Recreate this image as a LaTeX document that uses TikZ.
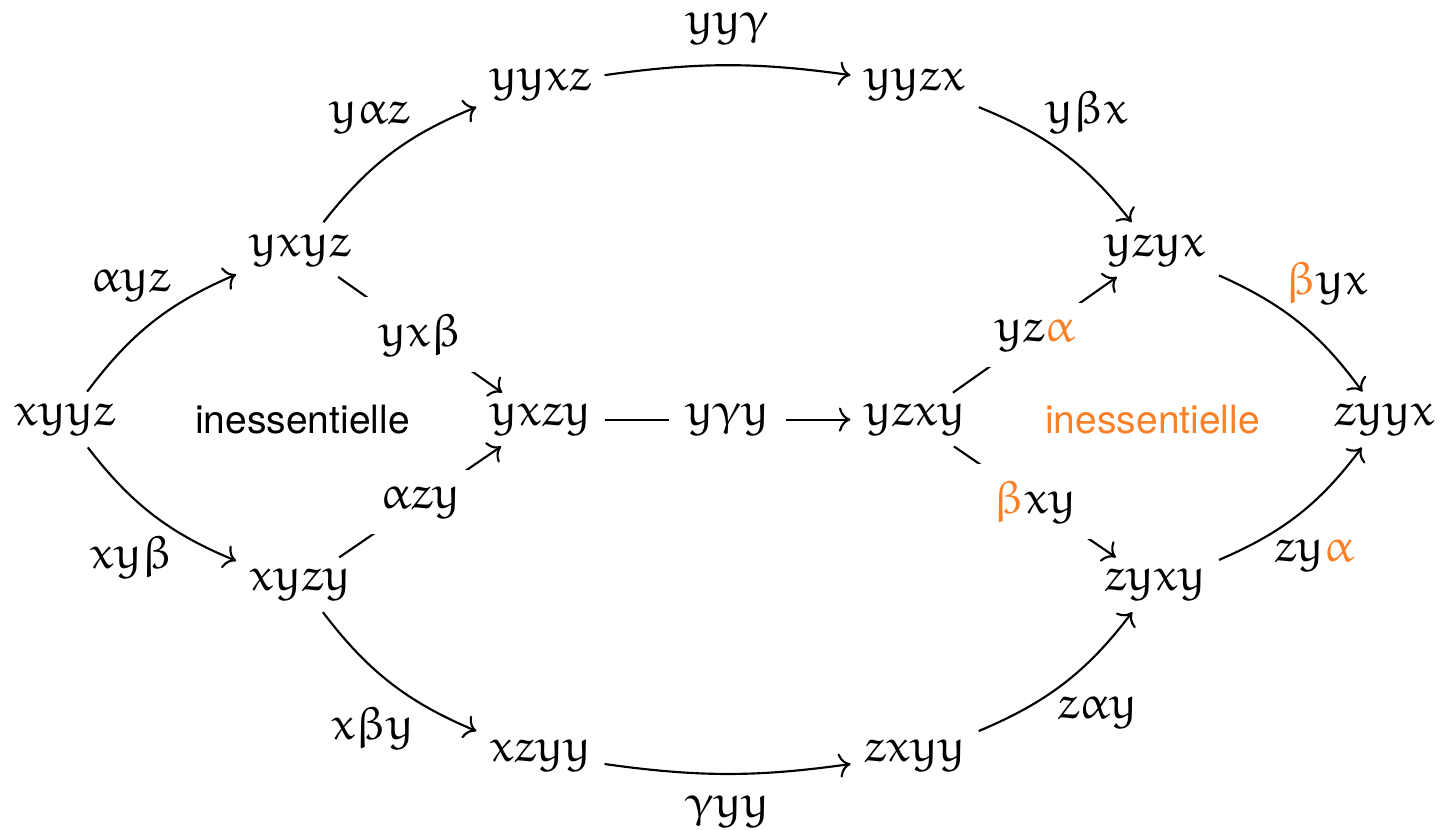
\documentclass[tikz,border=0pt]{standalone}
\usepackage[no-math]{fontspec}
\setsansfont{TeX Gyre Heros}
\usepackage{xcolor}
\usetikzlibrary{arrows.meta,positioning}
% Euler letters from amsfonts
\DeclareSymbolFont{eulerrm}{U}{eur}{m}{n}
\DeclareMathSymbol{x}{\mathalpha}{eulerrm}{`x}
\DeclareMathSymbol{y}{\mathalpha}{eulerrm}{`y}
\DeclareMathSymbol{z}{\mathalpha}{eulerrm}{`z}
\DeclareMathSymbol{\alpha}{\mathord}{eulerrm}{11}
\DeclareMathSymbol{\beta}{\mathord}{eulerrm}{12}
\DeclareMathSymbol{\gamma}{\mathord}{eulerrm}{13}
\definecolor{EssOrange}{RGB}{250,128,40}
\newcommand{\orgalpha}{{\color{EssOrange}\alpha}}
\newcommand{\orgbeta}{{\color{EssOrange}\beta}}
\tikzset{
  word/.style={inner sep=2pt},
  mv/.style={->,line width=0.5pt,shorten >=1pt,shorten <=1pt},
  lbl/.style={inner sep=1pt},
  flat/.style={inner sep=5pt},
  desc/.style={fill=white,inner sep=4pt},
  note/.style={font=\fontsize{9.1}{11}\sffamily\selectfont},
}

\begin{document}
\begin{tikzpicture}[font=\fontsize{10.8}{13}\selectfont]
    \useasboundingbox (0,0) rectangle (11.88,6.80);
    %% words
    \node[word] (xyyz) at (0.53,3.36)  {$xyyz$};
    \node[word] (yxyz) at (2.46,4.75)  {$yxyz$};
    \node[word] (xyzy) at (2.46,2.01)  {$xyzy$};
    \node[word] (yyxz) at (4.43,6.11)  {$yyxz$};
    \node[word] (yxzy) at (4.43,3.36)  {$yxzy$};
    \node[word] (xzyy) at (4.43,0.61)  {$xzyy$};
    \node[word] (yyzx) at (7.50,6.11)  {$yyzx$};
    \node[word] (yzxy) at (7.50,3.36)  {$yzxy$};
    \node[word] (zxyy) at (7.50,0.61)  {$zxyy$};
    \node[word] (yzyx) at (9.47,4.75)  {$yzyx$};
    \node[word] (zyxy) at (9.47,2.01)  {$zyxy$};
    \node[word] (zyyx) at (11.35,3.36) {$zyyx$};
    %% outer moves
    \draw[mv] (xyyz) to[bend left=15] node[lbl,pos=0.65,above left]  {$\alpha yz$} (yxyz);
    \draw[mv] (xyyz) to[bend right=15] node[lbl,pos=0.66,below left] {$xy\beta$} (xyzy);
    \draw[mv] (yxyz) to[bend left=15] node[lbl,pos=0.65,above left]  {$y\alpha z$} (yyxz);
    \draw[mv] (yyxz) to[bend left=8] node[flat,above]                 {$yy\gamma$} (yyzx);
    \draw[mv] (yyzx) to[bend left=15] node[lbl,pos=0.35,above right] {$y\beta x$} (yzyx);
    \draw[mv] (yzyx) to[bend left=15] node[lbl,pos=0.37,above right] {$\orgbeta yx$} (zyyx);
    \draw[mv] (xyzy) to[bend right=15] node[lbl,pos=0.68,below left] {$x\beta y$} (xzyy);
    \draw[mv] (xzyy) to[bend right=8] node[flat,below]                {$\gamma yy$} (zxyy);
    \draw[mv] (zxyy) to[bend right=15] node[lbl,pos=0.42,below right] {$z\alpha y$} (zyxy);
    \draw[mv] (zyxy) to[bend right=15] node[lbl,pos=0.3,below right]  {$zy\orgalpha$} (zyyx);
    %% inner moves
    \draw[mv] (yxyz) -- node[desc] {$yx\beta$} (yxzy);
    \draw[mv] (xyzy) -- node[desc] {$\alpha zy$} (yxzy);
    \draw[mv] (yxzy) -- node[desc] {$y\gamma y$} (yzxy);
    \draw[mv] (yzxy) -- node[desc] {$yz\orgalpha$} (yzyx);
    \draw[mv] (yzxy) -- node[desc] {$\orgbeta xy$} (zyxy);
    %% labels
    \node[note] (ess1) at (2.48,3.36) {inessentielle};
    \node[note,EssOrange] (ess2) at (9.45,3.36) {inessentielle};
\end{tikzpicture}
\end{document}
